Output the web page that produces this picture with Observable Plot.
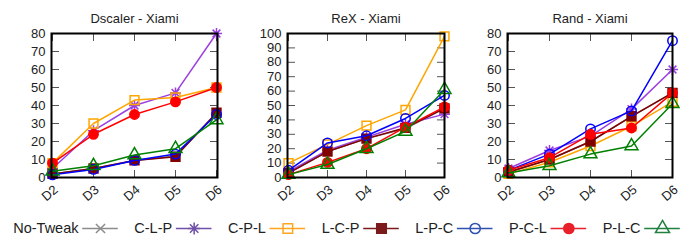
<!DOCTYPE html>
<html><head><meta charset="utf-8">
<script src="https://cdn.jsdelivr.net/npm/d3@7"></script>
<script src="https://cdn.jsdelivr.net/npm/@observablehq/plot@0.6"></script>
<style>
body{margin:0;background:#fff;font-family:"Liberation Sans",Arial,sans-serif}
#wrap{position:relative;width:697px;height:240px;overflow:hidden;background:#fff}
#wrap svg{position:absolute;top:0;font-family:"Liberation Sans",Arial,sans-serif}
</style></head><body><div id="wrap"></div>
<script>
// ---- data ----
const categories = ["D2", "D3", "D4", "D5", "D6"];
const seriesNames = ["No-Tweak", "C-L-P", "C-P-L", "L-C-P", "L-P-C", "P-C-L", "P-L-C"];
const panelTitles = ["Dscaler - Xiami", "ReX - Xiami", "Rand - Xiami"];
const yMaxes = [80, 100, 80];
// rows follow seriesNames order, columns follow categories
const dscalerValues = [
  [2, 5, 9.5, 12, 35.5],
  [5, 26, 40, 47, 80],
  [8, 30, 43, 44.5, 50],
  [2, 5, 9.5, 11.5, 36],
  [1.5, 4.5, 9.5, 13, 35],
  [8, 24, 35, 42, 50],
  [3.5, 6.5, 12.5, 16, 32]
];
const rexValues = [
  [3, 18, 27, 34, 48],
  [4, 19, 28, 37, 44],
  [10, 23, 36, 47, 98],
  [3, 18, 27, 34.5, 48],
  [5, 24, 29, 41, 57],
  [2, 10.5, 20, 35, 49],
  [2, 9, 20, 32, 61]
];
const randValues = [
  [3, 10, 20, 34, 47],
  [5, 15, 23, 38, 60],
  [2, 8.5, 17.5, 28.5, 42],
  [3, 10, 20, 34, 47],
  [4, 13, 27, 37, 76],
  [4, 11, 24, 27.5, 47],
  [2.5, 6.5, 13, 17.5, 41]
];

// ---- styles ----
const star8 = {draw(ctx, size) {
  const r = Math.sqrt(size / Math.PI) * 1.1, d = r * 0.7071;
  ctx.moveTo(-r, 0); ctx.lineTo(r, 0);
  ctx.moveTo(0, -r); ctx.lineTo(0, r);
  ctx.moveTo(-d, -d); ctx.lineTo(d, d);
  ctx.moveTo(-d, d); ctx.lineTo(d, -d);
}};
const cross = {draw(ctx, size) {
  const r = Math.sqrt(size / Math.PI) * 0.85;
  ctx.moveTo(-r, -r); ctx.lineTo(r, r);
  ctx.moveTo(-r, r); ctx.lineTo(r, -r);
}};
const panelColors = ["#808080", "#9a40e0", "#ffa500", "#800000", "#0000ff", "#ff0000", "#008000"];
const legendColors = ["#8c8c8c", "#7050a8", "#ffa51e", "#7a1a1a", "#3050b0", "#e8202a", "#208040"];
const symbols = [cross, star8, "square", "square", "circle", "circle", "triangle"];
const filled = [false, false, false, true, false, true, false];
const radii = [5, 5, 5, 5, 4.7, 4.7, 4.8];

const wrap = document.getElementById("wrap");

function panel(idx, values, left, width, ml, mr) {
  const yMax = yMaxes[idx];
  const ticks = d3.range(0, yMax + 1, 10);
  const marks = [];
  seriesNames.forEach((s, k) => {
    const d = categories.map((c, j) => ({series: s, cat: c, v: values[k][j]}));
    marks.push(Plot.line(d, {x: "cat", y: "v", stroke: panelColors[k], strokeWidth: 1.5}));
    marks.push(Plot.dot(d, {x: "cat", y: "v", symbol: () => symbols[k], r: radii[k],
      stroke: panelColors[k], fill: filled[k] ? panelColors[k] : "none", strokeWidth: 1.5}));
  });
  const p = Plot.plot({
    width, height: 205,
    marginLeft: ml, marginRight: mr, marginTop: 33, marginBottom: 28,
    style: {fontSize: "13px", fontFamily: "Liberation Sans, Arial, sans-serif", background: "transparent"},
    x: {type: "point", domain: categories, padding: 0},
    y: {domain: [0, yMax]},
    symbol: {type: "identity"},
    marks: [
      Plot.axisY({ticks, tickSize: -8, text: null, label: null, stroke: "#555"}),
      Plot.axisY({anchor: "right", ticks, tickSize: -8, text: null, label: null, stroke: "#555"}),
      Plot.axisX({anchor: "bottom", tickSize: -7, text: null, label: null, stroke: "#555"}),
      Plot.axisX({anchor: "top", tickSize: -7, text: null, label: null, stroke: "#555"}),
      ...marks,
      Plot.frame({stroke: "black", strokeWidth: 2}),
      Plot.axisY({ticks, tickSize: 0, tickPadding: 6, label: null, fontSize: 13, fill: "#222"}),
      Plot.text(categories, {x: d => d, frameAnchor: "bottom", dy: 19, rotate: -40, fontSize: 13, fill: "#222"}),
      Plot.text([panelTitles[idx]], {frameAnchor: "top", dy: -20, fontSize: 13, fill: "#222"})
    ]
  });
  p.style.left = left + "px";
  wrap.appendChild(p);
}

panel(0, dscalerValues, 0, 232, 51, 15);
panel(1, rexValues, 232, 232, 55, 20);
panel(2, randValues, 464, 233, 43, 25);

// ---- legend ----
const items = seriesNames.map((s, i) => ({name: s, i}));
const leg = Plot.plot({
  width: 697, height: 36, margin: 0,
  style: {fontSize: "14.5px", fontFamily: "Liberation Sans, Arial, sans-serif", background: "transparent"},
  x: {type: "linear", domain: [0, 6], range: [100, 662], axis: null},
  y: {domain: [0, 1], range: [36, 0], axis: null},
  r: {type: "identity"},
  symbol: {type: "identity"},
  marks: [
    Plot.ruleY(items, {y: () => 0.5, x1: d => d.i - 0.19, x2: d => d.i + 0.19, stroke: d => legendColors[d.i], strokeWidth: 1.5}),
    Plot.dot(items, {x: "i", y: () => 0.5, symbol: d => symbols[d.i], r: d => radii[d.i] + 0.4,
      stroke: d => legendColors[d.i], fill: d => filled[d.i] ? legendColors[d.i] : "none", strokeWidth: 1.5}),
    Plot.text(items, {x: "i", y: () => 0.5, text: "name", dx: -22, textAnchor: "end", fill: "#222"})
  ]
});
leg.style.top = "210px";
leg.style.left = "0px";
wrap.appendChild(leg);
</script></body></html>
